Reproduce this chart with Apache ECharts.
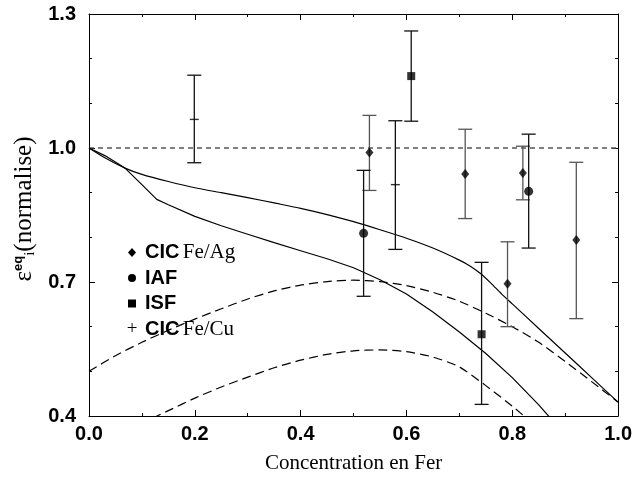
<!DOCTYPE html>
<html><head><meta charset="utf-8">
<script src="https://cdn.jsdelivr.net/npm/echarts@6/dist/echarts.min.js"></script>
<style>html,body{margin:0;padding:0;background:#fff}#c{width:635px;height:479px}</style>
</head><body><div id="c"></div>
<script>
// ---- data ----
const xTickLabels = ['0.0', '0.2', '0.4', '0.6', '0.8', '1.0'];
const yTickLabels = ['0.4', '0.7', '1.0', '1.3'];

// CIC Fe/Ag (diamonds)
const cicAgX    = [0.530, 0.711, 0.791, 0.820, 0.921];
const cicAgY    = [0.990, 0.942, 0.696, 0.944, 0.794];
const cicAgLow  = [0.905, 0.842, 0.600, 0.884, 0.618];
const cicAgHigh = [1.073, 1.042, 0.790, 1.004, 0.968];
// IAF (circles)
const iafX    = [0.519, 0.831];
const iafY    = [0.809, 0.903];
const iafLow  = [0.668, 0.776];
const iafHigh = [0.950, 1.031];
// ISF (squares)
const isfX    = [0.609, 0.742];
const isfY    = [1.161, 0.583];
const isfLow  = [1.060, 0.426];
const isfHigh = [1.262, 0.744];
// CIC Fe/Cu (plus)
const cicCuX    = [0.199, 0.579];
const cicCuY    = [1.064, 0.918];
const cicCuLow  = [0.967, 0.773];
const cicCuHigh = [1.163, 1.061];

// reference line
const refX = [0, 1];
const refY = [1.0, 1.0];

// model curves
const solidUpperX = [0.00, 0.03, 0.068, 0.10, 0.15, 0.20, 0.25, 0.30, 0.35, 0.40, 0.45, 0.50, 0.55, 0.60, 0.65, 0.70, 0.72, 0.74, 0.76, 0.78, 0.80, 0.85, 0.90, 0.95, 1.00];
const solidUpperY = [1.000, 0.978, 0.955, 0.941, 0.925, 0.911, 0.900, 0.889, 0.877, 0.865, 0.851, 0.835, 0.817, 0.798, 0.776, 0.749, 0.736, 0.719, 0.697, 0.673, 0.651, 0.596, 0.541, 0.486, 0.431];

const solidLowerX = [0.00, 0.03, 0.068, 0.10, 0.128, 0.15, 0.20, 0.25, 0.30, 0.35, 0.40, 0.45, 0.50, 0.55, 0.60, 0.65, 0.70, 0.75, 0.80, 0.85, 0.87];
const solidLowerY = [1.000, 0.983, 0.955, 0.918, 0.885, 0.873, 0.847, 0.826, 0.807, 0.788, 0.770, 0.752, 0.732, 0.705, 0.673, 0.633, 0.588, 0.540, 0.486, 0.425, 0.398];

const dashUpperX = [0.00, 0.05, 0.10, 0.15, 0.20, 0.25, 0.30, 0.35, 0.40, 0.45, 0.50, 0.55, 0.60, 0.65, 0.70, 0.75, 0.80, 0.85, 0.90, 0.95, 1.00];
const dashUpperY = [0.500, 0.535, 0.565, 0.592, 0.617, 0.640, 0.662, 0.680, 0.693, 0.701, 0.704, 0.701, 0.692, 0.677, 0.657, 0.630, 0.600, 0.565, 0.522, 0.477, 0.431];

const dashLowerX = [0.12, 0.15, 0.20, 0.25, 0.30, 0.35, 0.40, 0.45, 0.50, 0.55, 0.60, 0.65, 0.70, 0.75, 0.80, 0.85];
const dashLowerY = [0.395, 0.412, 0.440, 0.465, 0.487, 0.508, 0.525, 0.538, 0.546, 0.548, 0.544, 0.532, 0.510, 0.468, 0.422, 0.372];

// ---- chart ----
const zip = (a, b) => a.map((v, i) => [v, b[i]]);
const zip3 = (a, b, c) => a.map((v, i) => [v, b[i], c[i]]);

function errBars(name, xs, lo, hi, color) {
  return {
    type: 'custom', name: name + ' err', silent: true, z: 3,
    data: zip3(xs, lo, hi),
    encode: { x: 0, y: [1, 2] },
    renderItem: function (params, api) {
      const a = api.coord([api.value(0), api.value(1)]);
      const b = api.coord([api.value(0), api.value(2)]);
      const w = 7;
      const st = { stroke: color, lineWidth: 1.3 };
      return { type: 'group', children: [
        { type: 'line', shape: { x1: a[0], y1: a[1], x2: b[0], y2: b[1] }, style: st },
        { type: 'line', shape: { x1: a[0] - w, y1: a[1], x2: a[0] + w, y2: a[1] }, style: st },
        { type: 'line', shape: { x1: b[0] - w, y1: b[1], x2: b[0] + w, y2: b[1] }, style: st }
      ]};
    }
  };
}
function curve(name, xs, ys, dashed, smooth) {
  return { type: 'line', name: name, data: zip(xs, ys), symbol: 'none', smooth: smooth || false, silent: true, z: 2,
           lineStyle: { color: '#000', width: 1.2, type: dashed ? [9, 5] : 'solid' } };
}

const bold = 'Liberation Sans';
const serif = 'Liberation Serif';

const axisCommon = {
  type: 'value',
  axisLine: { show: true, onZero: false, lineStyle: { color: '#000', width: 1 } },
  axisTick: { show: true, inside: true, length: 6, lineStyle: { color: '#000' } },
  minorTick: { show: true, length: 3, lineStyle: { color: '#000' } },
  splitLine: { show: false }, minorSplitLine: { show: false }
};

const option = {
  animation: false,
  backgroundColor: '#fff',
  grid: { left: 89, right: 16, top: 14, bottom: 60, containLabel: false },
  xAxis: [
    Object.assign({}, axisCommon, {
      min: 0, max: 1, interval: 0.2, position: 'bottom',
      minorTick: Object.assign({}, axisCommon.minorTick, { splitNumber: 2 }),
      axisLabel: { formatter: v => xTickLabels[Math.round(v / 0.2)], fontSize: 20, fontWeight: 'bold', fontFamily: bold, color: '#000', margin: 8 },
      name: 'Concentration en Fer', nameLocation: 'middle', nameGap: 37,
      nameTextStyle: { fontFamily: serif, fontSize: 21, color: '#000' }
    }),
    Object.assign({}, axisCommon, {
      min: 0, max: 1, interval: 0.2, position: 'top',
      minorTick: Object.assign({}, axisCommon.minorTick, { splitNumber: 2 }),
      axisLabel: { show: false }
    })
  ],
  yAxis: [
    Object.assign({}, axisCommon, {
      min: 0.4, max: 1.3, interval: 0.3, position: 'left',
      minorTick: Object.assign({}, axisCommon.minorTick, { splitNumber: 3 }),
      axisLabel: { formatter: v => yTickLabels[Math.round((v - 0.4) / 0.3)], fontSize: 20, fontWeight: 'bold', fontFamily: bold, color: '#000', margin: 13 },
      name: '{e|ε}{sup|eq}{sub|i}{n|(normalise)}', nameLocation: 'middle', nameGap: 44, nameRotate: 90,
      nameTextStyle: {
        color: '#000', padding: [0, 0, 0, 12],
        rich: {
          e: { fontFamily: serif, fontSize: 25, color: '#000' },
          sup: { fontFamily: bold, fontWeight: 'bold', fontSize: 13, color: '#000', verticalAlign: 'top', padding: [0, 0, 12, 0] },
          sub: { fontFamily: serif, fontSize: 15, color: '#000', verticalAlign: 'bottom' },
          n: { fontFamily: serif, fontSize: 25, color: '#000' }
        }
      }
    }),
    Object.assign({}, axisCommon, {
      min: 0.4, max: 1.3, interval: 0.3, position: 'right',
      minorTick: Object.assign({}, axisCommon.minorTick, { splitNumber: 3 }),
      axisLabel: { show: false }
    })
  ],
  series: [
    { type: 'line', name: 'ref', data: zip(refX, refY), symbol: 'none', silent: true, z: 1,
      lineStyle: { color: '#555', width: 1.5, type: [5, 4] } },
    curve('solid upper', solidUpperX, solidUpperY, false, 0.2),
    curve('solid lower', solidLowerX, solidLowerY, false, false),
    curve('dashed upper', dashUpperX, dashUpperY, true, 0.2),
    curve('dashed lower', dashLowerX, dashLowerY, true, 0.2),
    errBars('CIC Fe/Ag', cicAgX, cicAgLow, cicAgHigh, '#555'),
    errBars('IAF', iafX, iafLow, iafHigh, '#111'),
    errBars('ISF', isfX, isfLow, isfHigh, '#111'),
    errBars('CIC Fe/Cu', cicCuX, cicCuLow, cicCuHigh, '#111'),
    { type: 'scatter', name: 'CIC Fe/Ag', data: zip(cicAgX, cicAgY), symbol: 'diamond', symbolSize: [8, 10], itemStyle: { color: '#000' }, z: 4 },
    { type: 'scatter', name: 'IAF', data: zip(iafX, iafY), symbol: 'circle', symbolSize: 9, itemStyle: { color: '#000' }, z: 4 },
    { type: 'scatter', name: 'ISF', data: zip(isfX, isfY), symbol: 'rect', symbolSize: 8, itemStyle: { color: '#000' }, z: 4 },
    { type: 'scatter', name: 'CIC Fe/Cu', data: zip(cicCuX, cicCuY), symbol: 'path://M0,4.4H10V5.6H0Z', symbolSize: [9, 1.4], itemStyle: { color: '#000' }, z: 4 }
  ],
  graphic: [
    { type: 'polygon', shape: { points: [[132, 248], [136, 252.5], [132, 257], [128, 252.5]] }, style: { fill: '#000' } },
    { type: 'circle', shape: { cx: 132, cy: 278, r: 4 }, style: { fill: '#000' } },
    { type: 'rect', shape: { x: 128, y: 299.5, width: 8, height: 8 }, style: { fill: '#000' } },
    { type: 'text', x: 132, y: 329, style: { text: '+', fontFamily: serif, fontSize: 19, fill: '#000', align: 'center', verticalAlign: 'middle' } },
    { type: 'text', x: 145, y: 252, style: { text: '{b|CIC} {s|Fe/Ag}', verticalAlign: 'middle', rich: { b: { fontFamily: bold, fontWeight: 'bold', fontSize: 20, fill: '#000' }, s: { fontFamily: serif, fontSize: 21, fill: '#000' } } } },
    { type: 'text', x: 145, y: 278, style: { text: 'IAF', verticalAlign: 'middle', fontFamily: bold, fontWeight: 'bold', fontSize: 20, fill: '#000' } },
    { type: 'text', x: 145, y: 303, style: { text: 'ISF', verticalAlign: 'middle', fontFamily: bold, fontWeight: 'bold', fontSize: 20, fill: '#000' } },
    { type: 'text', x: 145, y: 329, style: { text: '{b|CIC} {s|Fe/Cu}', verticalAlign: 'middle', rich: { b: { fontFamily: bold, fontWeight: 'bold', fontSize: 20, fill: '#000' }, s: { fontFamily: serif, fontSize: 21, fill: '#000' } } } }
  ]
};
const chart = echarts.init(document.getElementById('c'), null, { renderer: 'canvas' });
chart.setOption(option);
</script>
</body></html>
